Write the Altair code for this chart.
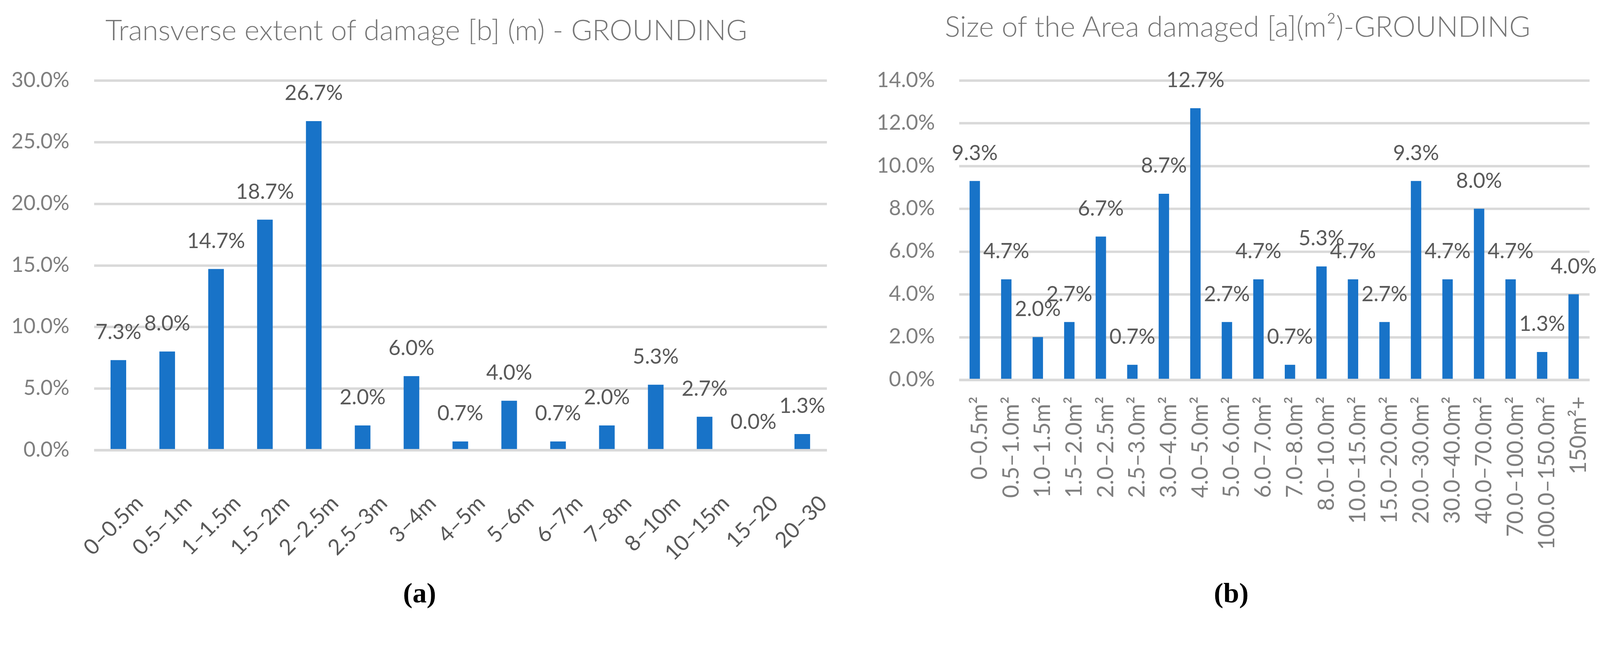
import altair as alt
import pandas as pd

# ---------------- data ----------------
left_cats = ["0–0.5m", "0.5–1m", "1–1.5m", "1.5–2m", "2–2.5m", "2.5–3m", "3–4m",
             "4–5m", "5–6m", "6–7m", "7–8m", "8–10m", "10–15m", "15–20", "20–30"]
left_vals = [7.3, 8.0, 14.7, 18.7, 26.7, 2.0, 6.0, 0.7, 4.0, 0.7, 2.0, 5.3, 2.7, 0.0, 1.3]

right_cats = ["0–0.5m²", "0.5–1.0m²", "1.0–1.5m²", "1.5–2.0m²", "2.0–2.5m²", "2.5–3.0m²",
              "3.0–4.0m²", "4.0–5.0m²", "5.0–6.0m²", "6.0–7.0m²", "7.0–8.0m²", "8.0–10.0m²",
              "10.0–15.0m²", "15.0–20.0m²", "20.0–30.0m²", "30.0–40.0m²", "40.0–70.0m²",
              "70.0–100.0m²", "100.0–150.0m²", "150m²+"]
right_vals = [9.3, 4.7, 2.0, 2.7, 6.7, 0.7, 8.7, 12.7, 2.7, 4.7, 0.7, 5.3, 4.7, 2.7,
              9.3, 4.7, 8.0, 4.7, 1.3, 4.0]

left_ticks = [0.0, 0.05, 0.10, 0.15, 0.20, 0.25, 0.30]
right_ticks = [0.0, 0.02, 0.04, 0.06, 0.08, 0.10, 0.12, 0.14]

left_title = "Transverse extent of damage [b] (m) - GROUNDING"
right_title = "Size of the Area damaged [a](m²)-GROUNDING"

left_df = pd.DataFrame({"cat": left_cats, "pct": [v / 100 for v in left_vals]})
right_df = pd.DataFrame({"cat": right_cats, "pct": [v / 100 for v in right_vals]})

# ---------------- styles ----------------
FONT = "Lato"
BAR = "#1873C8"
GRID = "#D9D9D9"
AXIS_TXT = "#7F7F7F"
DATA_TXT = "#595959"
TITLE_TXT = "#767676"


def panel(df, cats, ticks, ymax, width, height, title, title_dx, title_dy, caption,
          cap_x, cap_y, pad_inner, xlab_angle, xlab_baseline, xlab_pad, xlab_offset,
          xlab_size, xlab_color, y_extent, y_lab_pad):
    x = alt.X(
        "cat:N", sort=cats,
        scale=alt.Scale(paddingInner=pad_inner, paddingOuter=pad_inner / 2),
        axis=alt.Axis(
            title=caption, titleFont="Liberation Serif", titleFontSize=76,
            titleFontWeight="bold", titleColor="#000000", titleX=cap_x, titleY=cap_y,
            titleAlign="center", titleBaseline="alphabetic",
            domain=True, domainColor=GRID, domainWidth=6.5, ticks=False, grid=False,
            labelAngle=xlab_angle, labelAlign="right", labelBaseline=xlab_baseline,
            labelPadding=xlab_pad, labelOffset=xlab_offset, labelFont=FONT,
            labelFontSize=xlab_size, labelColor=xlab_color, labelLimit=1000,
            labelOverlap=False, labelBound=False, zindex=1,
        ),
    )
    y = alt.Y(
        "pct:Q", scale=alt.Scale(domain=[0, ymax], nice=False),
        axis=alt.Axis(
            title=None, values=ticks, format=".1%", grid=True, gridColor=GRID,
            gridWidth=6.5, domain=False, ticks=False, labelFont=FONT, labelFontSize=56,
            labelColor=AXIS_TXT, labelPadding=y_lab_pad, labelLimit=600,
            minExtent=y_extent, maxExtent=y_extent,
        ),
    )

    base = alt.Chart(df)
    bars = base.mark_bar(color=BAR).encode(x=x, y=y)
    labels = base.mark_text(
        dy=-56, baseline="alphabetic", align="center", font=FONT, fontSize=56,
        color=DATA_TXT,
    ).encode(x=alt.X("cat:N", sort=cats), y=alt.Y("pct:Q"),
             text=alt.Text("pct:Q", format=".1%"))
    return alt.layer(bars, labels).properties(
        width=width, height=height,
        title=alt.TitleParams(
            text=title, font=FONT, fontSize=77, fontWeight=300, color=TITLE_TXT,
            anchor="middle", frame="group", baseline="alphabetic", offset=12,
            dx=title_dx, dy=title_dy,
        ),
    )


left = panel(left_df, left_cats, left_ticks, 0.30, 1961, 989, left_title, -91, 9,
             "(a)", 871, 407, 0.68, -45, "top", 113, 37, 58, DATA_TXT, 243, 66)
right = panel(right_df, right_cats, right_ticks, 0.14, 1687, 801, right_title, -98, 0,
              "(b)", 728, 595, 0.67, -90, "middle", 44, 15, 60, AXIS_TXT, 250, 65)

chart = alt.hconcat(left, right, spacing=91).properties(
    padding={"left": 0, "top": -8, "right": 0, "bottom": 0},
    background="white",
).configure_view(stroke=None)

chart.save("out.html", embed_options={"renderer": "svg", "actions": False})
